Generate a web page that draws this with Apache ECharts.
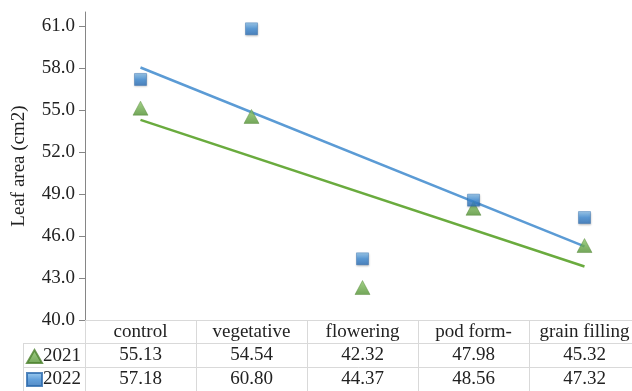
<!DOCTYPE html>
<html><head><meta charset="utf-8">
<script src="https://cdn.jsdelivr.net/npm/echarts@6/dist/echarts.min.js"></script>
<style>html,body{margin:0;padding:0;background:#fff}#c{width:632px;height:391px}</style>
</head><body><div id="c"></div>
<script>
var categories = ['control', 'vegetative', 'flowering', 'pod form-', 'grain filling'];
var values2021 = [55.13, 54.54, 42.32, 47.98, 45.32];
var values2022 = [57.18, 60.80, 44.37, 48.56, 47.32];
var yTicks = [40, 43, 46, 49, 52, 55, 58, 61];
var yName = 'Leaf area (cm2)';

function trend(vals) {
  var n = vals.length, mx = 0, my = 0;
  for (var i = 0; i < n; i++) { mx += i; my += vals[i]; }
  mx /= n; my /= n;
  var sxy = 0, sxx = 0;
  for (var j = 0; j < n; j++) { sxy += (j - mx) * (vals[j] - my); sxx += (j - mx) * (j - mx); }
  var b = sxy / sxx, a = my - b * mx;
  return [[0, a], [n - 1, a + b * (n - 1)]];
}

var FONT = 'Liberation Serif';
var FS = 19;
var gridCol = '#d9d9d9';
var chart = echarts.init(document.getElementById('c'));
var greenGrad = new echarts.graphic.LinearGradient(0, 0, 0, 1, [{offset: 0, color: '#8cc66a'}, {offset: 1, color: '#4f8f2f'}]);
var blueGrad = new echarts.graphic.LinearGradient(0, 0, 0, 1, [{offset: 0, color: '#8cc4ee'}, {offset: 0.5, color: '#3d8ad3'}, {offset: 1, color: '#2a6db5'}]);

function rowAxis(offset, vals, showTicks) {
  return {
    type: 'category', gridIndex: 0, position: 'bottom', offset: offset,
    data: categories, boundaryGap: true,
    axisLine: {show: true, lineStyle: {color: gridCol, width: 1}},
    axisTick: {show: showTicks, interval: 0, length: 71, lineStyle: {color: gridCol}},
    axisLabel: {
      interval: 0, margin: 3, color: '#222', fontFamily: FONT, fontSize: FS,
      formatter: function (v, i) { return vals ? vals[i].toFixed(2) : v; }
    },
    splitLine: {show: false}
  };
}

chart.setOption({
  animation: false,
  backgroundColor: '#fff',
  grid: {left: 85, width: 555, top: 12, bottom: 71, containLabel: false, outerBoundsMode: 'none'},
  legend: {
    data: [{name: '2021', icon: 'triangle'}, {name: '2022', icon: 'rect'}],
    orient: 'vertical', left: 26, top: 347, itemWidth: 15, itemHeight: 13, itemGap: 4,
    textStyle: {fontFamily: FONT, fontSize: FS, color: '#222', padding: [0, 0, 0, -4]},
    padding: 0
  },
  xAxis: [rowAxis(0, null, true), rowAxis(23, values2021, false), rowAxis(47, values2022, false)],
  yAxis: {
    type: 'value', min: 40, max: 62, interval: 3,
    name: yName, nameLocation: 'middle', nameGap: 56, nameRotate: 90,
    nameTextStyle: {fontFamily: FONT, fontSize: FS, color: '#222'},
    axisLine: {show: true, lineStyle: {color: '#868686'}},
    axisTick: {show: true, length: 6, lineStyle: {color: '#868686'}, customValues: yTicks},
    axisLabel: {color: '#222', fontFamily: FONT, fontSize: FS, margin: 10, customValues: yTicks,
      formatter: function (v) { return v.toFixed(1); }},
    splitLine: {show: false}
  },
  series: [
    {name: 'trend2022', type: 'line', xAxisIndex: 0, data: trend(values2022), symbol: 'none',
      lineStyle: {color: '#5b9bd5', width: 2.5}, z: 1},
    {name: 'trend2021', type: 'line', xAxisIndex: 0, data: trend(values2021), symbol: 'none',
      lineStyle: {color: '#6aab3e', width: 2.5}, z: 1},
    {name: '2021', type: 'scatter', xAxisIndex: 0, data: values2021, symbol: 'triangle', symbolSize: [15, 14],
      itemStyle: {color: greenGrad, borderColor: '#4a7f2c', borderWidth: 0.5}, z: 3},
    {name: '2022', type: 'scatter', xAxisIndex: 0, data: values2022, symbol: 'rect', symbolSize: [12, 12],
      itemStyle: {color: blueGrad, borderColor: '#2a69ad', borderWidth: 0.5,
        shadowColor: 'rgba(0,0,0,0.25)', shadowBlur: 2, shadowOffsetY: 1}, z: 3}
  ],
  graphic: [
    {type: 'line', shape: {x1: 23, y1: 343.5, x2: 85, y2: 343.5}, style: {stroke: gridCol, lineWidth: 1}},
    {type: 'line', shape: {x1: 23, y1: 367.5, x2: 85, y2: 367.5}, style: {stroke: gridCol, lineWidth: 1}},
    {type: 'line', shape: {x1: 23.5, y1: 343, x2: 23.5, y2: 391}, style: {stroke: gridCol, lineWidth: 1}}
  ]
});
</script></body></html>
